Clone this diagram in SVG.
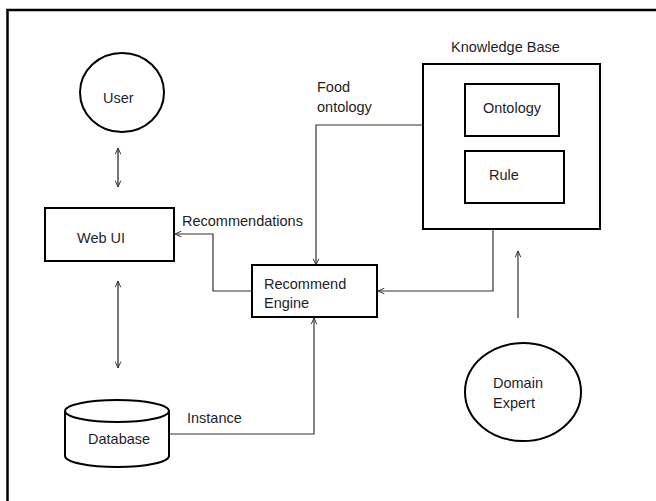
<svg xmlns="http://www.w3.org/2000/svg" width="656" height="501" viewBox="0 0 656 501">
<defs>
<marker id="arr" viewBox="0 0 10 10" refX="10" refY="5" markerWidth="7" markerHeight="7" orient="auto-start-reverse" markerUnits="userSpaceOnUse">
<path d="M1,1 L10,5 L1,9" fill="none" stroke="#333" stroke-width="1.4"/>
</marker>
</defs>
<style>
.t{font-family:"Liberation Sans",Arial,sans-serif;font-size:14.5px;fill:#1e1e2a}
.shape{fill:#fff;stroke:#000;stroke-width:2}
.con{fill:none;stroke:#333;stroke-width:1.2}
.dbl{fill:none;stroke:#666;stroke-width:1.8}
</style>
<rect width="656" height="501" fill="#fff"/>
<path d="M7.5,501 V10 H656" fill="none" stroke="#000" stroke-width="2.5"/>
<text class="t" x="451" y="52">Knowledge Base</text>
<g id="connectors">
<line class="dbl" x1="118" y1="148" x2="118" y2="187" marker-start="url(#arr)" marker-end="url(#arr)"/>
<line class="dbl" x1="118" y1="281" x2="118" y2="368" marker-start="url(#arr)" marker-end="url(#arr)"/>
<polyline class="con" points="252,291 213,291 213,234 175,234" marker-end="url(#arr)"/>
<polyline class="con" points="423,125 316,125 316,265" marker-end="url(#arr)"/>
<polyline class="con" points="493,229 493,291 378,291" marker-end="url(#arr)"/>
<polyline class="con" points="169,434 314,434 314,318" marker-end="url(#arr)"/>
<line class="con" x1="518" y1="318" x2="518" y2="251" marker-end="url(#arr)"/>
<text class="t" x="182" y="226">Recommendations</text>
<text class="t" x="317" y="92">Food</text>
<text class="t" x="317" y="112">ontology</text>
<text class="t" x="187" y="423">Instance</text>
</g>
<g id="user">
<ellipse class="shape" cx="122" cy="92.5" rx="42" ry="39.5"/>
<text class="t" x="103" y="103">User</text>
</g>
<g id="webui">
<rect class="shape" x="45" y="208" width="129" height="53"/>
<text class="t" x="77" y="243">Web UI</text>
</g>
<g id="database">
<path class="shape" d="M65,411 V456 A52,11 0 0 0 169,456 V411"/>
<ellipse class="shape" cx="117" cy="411" rx="52" ry="11"/>
<text class="t" x="88" y="444">Database</text>
</g>
<g id="recommend-engine">
<rect class="shape" x="252" y="265" width="125" height="52"/>
<text class="t" x="264" y="289">Recommend</text>
<text class="t" x="264" y="308">Engine</text>
</g>
<g id="knowledge-base">
<rect class="shape" x="423" y="64" width="177" height="165"/>
</g>
<g id="ontology">
<rect class="shape" x="465" y="84" width="94" height="52"/>
<text class="t" x="483" y="113">Ontology</text>
</g>
<g id="rule">
<rect class="shape" x="465" y="151" width="99" height="52"/>
<text class="t" x="489" y="180">Rule</text>
</g>
<g id="domain-expert">
<ellipse class="shape" cx="523" cy="392" rx="58" ry="49"/>
<text class="t" x="493" y="388">Domain</text>
<text class="t" x="493" y="408">Expert</text>
</g>
</svg>
